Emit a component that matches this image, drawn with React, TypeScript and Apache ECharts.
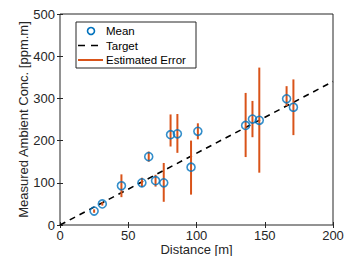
import React, { useEffect, useRef } from "react";
import * as echarts from "echarts";

const distances = [25, 31, 45, 60, 65, 70, 76, 81, 86, 96, 101, 136, 141, 146, 166, 171];
const means = [33, 50, 93, 100, 162, 105, 100, 214, 216, 137, 222, 236, 251, 248, 299, 279];
const errLow = [29, 46, 66, 90, 150, 91, 55, 186, 171, 72, 203, 161, 208, 124, 282, 213];
const errHigh = [37, 54, 120, 112, 174, 119, 147, 262, 263, 200, 241, 313, 294, 373, 329, 345];
const targetX = [0, 200];
const targetY = [0, 340];
const xTicks = [0, 50, 100, 150, 200];
const yTicks = [0, 100, 200, 300, 400, 500];
const legendNames = ["Mean", "Target", "Estimated Error"];

const BLUE = "#0072BD";
const ORANGE = "#D95319";
const DARK = "#262626";
const FONT = "'Liberation Sans', Arial, Helvetica, sans-serif";

export default function App() {
  const ref = useRef<HTMLDivElement>(null);
  useEffect(() => {
    if (!ref.current) return;
    const chart = echarts.init(ref.current, undefined, { renderer: "svg" });
    const axisCommon = {
      axisLine: { show: false },
      splitLine: { show: false },
      axisTick: { show: true, inside: true, length: 3, lineStyle: { color: DARK, width: 1 } },
    };
    const xBase = { type: "value", min: xTicks[0], max: xTicks[xTicks.length - 1], interval: 50 };
    const yBase = { type: "value", min: yTicks[0], max: yTicks[yTicks.length - 1], interval: 100 };
    chart.setOption({
      animation: false,
      textStyle: { fontFamily: FONT },
      grid: {
        left: 60, right: 26, top: 14, bottom: 31,
        outerBoundsMode: "none",
        containLabel: false,
        show: true, borderColor: DARK, borderWidth: 1, backgroundColor: "transparent",
      },
      xAxis: [
        {
          ...xBase,
          ...axisCommon,
          position: "bottom",
          name: "Distance [m]",
          nameLocation: "middle",
          nameGap: 18.5,
          nameMoveOverlap: false,
          nameTextStyle: { fontSize: 13, lineHeight: 12.5, color: DARK, fontFamily: FONT, verticalAlign: "top" },
          axisLabel: { fontSize: 13, lineHeight: 12.5, color: DARK, margin: 4, fontFamily: FONT },
        },
        { ...xBase, ...axisCommon, position: "top", axisLabel: { show: false } },
      ],
      yAxis: [
        {
          ...yBase,
          ...axisCommon,
          position: "left",
          name: "Measured Ambient Conc. [ppm.m]",
          nameLocation: "middle",
          nameGap: 30,
          nameMoveOverlap: false,
          nameTextStyle: { fontSize: 13, color: DARK, fontFamily: FONT },
          axisLabel: { fontSize: 13, color: DARK, margin: 5, fontFamily: FONT },
        },
        { ...yBase, ...axisCommon, position: "right", axisLabel: { show: false } },
      ],
      series: [
        {
          name: legendNames[1],
          type: "line",
          data: targetX.map((x, i) => [x, targetY[i]]),
          showSymbol: false,
          symbol: "none",
          lineStyle: { color: "#000", width: 1.6, type: [6, 5] },
          z: 2,
        },
        {
          name: legendNames[2],
          type: "custom",
          data: distances.map((x, i) => [x, errLow[i], errHigh[i]]),
          renderItem: (params: any, api: any) => {
            const x = api.value(0);
            const p1 = api.coord([x, api.value(1)]);
            const p2 = api.coord([x, api.value(2)]);
            return {
              type: "line",
              shape: { x1: p1[0], y1: p1[1], x2: p2[0], y2: p2[1] },
              style: { stroke: ORANGE, lineWidth: 2 },
            };
          },
          z: 3,
        },
        {
          name: legendNames[0],
          type: "scatter",
          data: distances.map((x, i) => [x, means[i]]),
          symbol: "circle",
          symbolSize: 8,
          itemStyle: { color: "rgba(0,0,0,0)", borderColor: BLUE, borderWidth: 1.6 },
          z: 4,
        },
      ],
      graphic: [
        {
          type: "group",
          z: 100,
          children: [
            { type: "rect", shape: { x: 76, y: 22, width: 120, height: 46 }, style: { fill: "#fff", stroke: DARK, lineWidth: 1 } },
            { type: "circle", shape: { cx: 91, cy: 31, r: 3.5 }, style: { fill: "none", stroke: BLUE, lineWidth: 1.6 } },
            { type: "line", shape: { x1: 78, y1: 45.5, x2: 98, y2: 45.5 }, style: { stroke: "#000", lineWidth: 1.6, lineDash: [7, 6] } },
            { type: "line", shape: { x1: 78, y1: 60, x2: 103, y2: 60 }, style: { stroke: ORANGE, lineWidth: 2 } },
            { type: "text", x: 106, y: 31, style: { text: legendNames[0], fontSize: 11.5, fill: "#000", fontFamily: FONT, verticalAlign: "middle" } },
            { type: "text", x: 106, y: 45.5, style: { text: legendNames[1], fontSize: 11.5, fill: "#000", fontFamily: FONT, verticalAlign: "middle" } },
            { type: "text", x: 106, y: 60, style: { text: legendNames[2], fontSize: 11.5, fill: "#000", fontFamily: FONT, verticalAlign: "middle" } },
          ],
        },
      ],
    });
    return () => chart.dispose();
  }, []);
  return <div ref={ref} style={{ position: "fixed", left: 0, top: 0, width: 359, height: 256, background: "#fff" }} />;
}
